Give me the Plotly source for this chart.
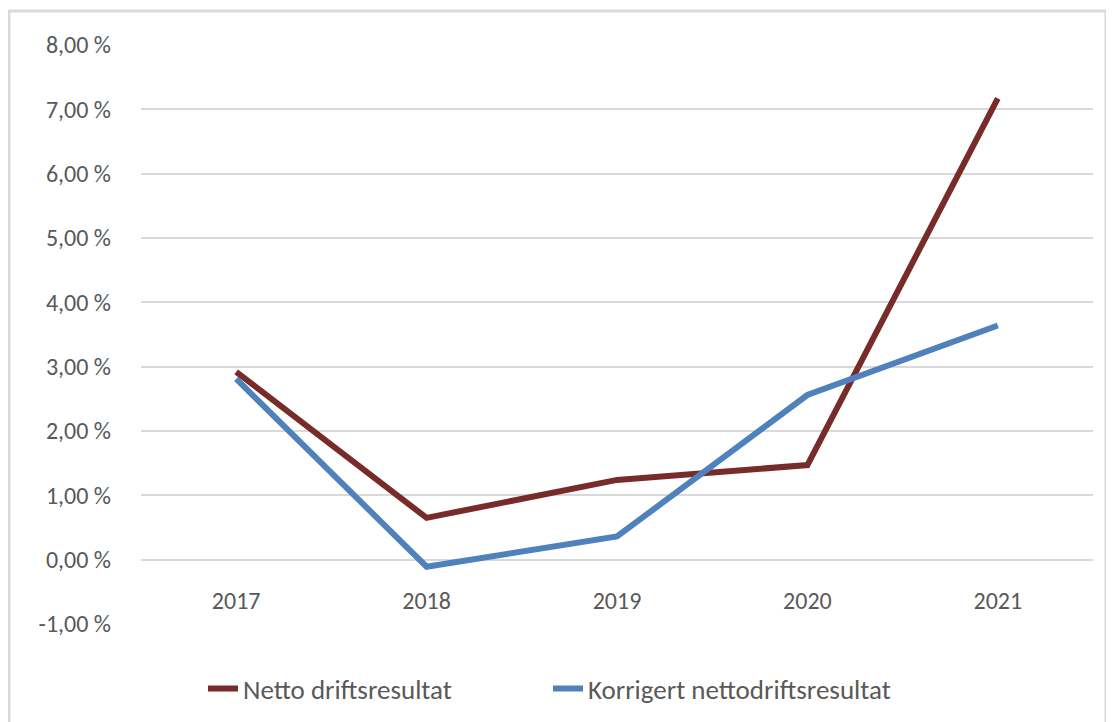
import plotly.graph_objects as go

years = ['2017', '2018', '2019', '2020', '2021']
netto = [2.92, 0.65, 1.24, 1.47, 7.17]
korrigert = [2.81, -0.11, 0.36, 2.56, 3.64]
y_ticks = [-1, 0, 1, 2, 3, 4, 5, 6, 7, 8]
y_ticktext = ['%d,00 %%' % v for v in y_ticks]

FONT = 'Carlito, Calibri, Lato, "Open Sans", sans-serif'
GREY = '#595959'

fig = go.Figure()
fig.add_trace(go.Scatter(
    x=years, y=netto, mode='lines', name='Netto driftsresultat',
    line=dict(color='#772C2A', width=6)))
fig.add_trace(go.Scatter(
    x=years, y=korrigert, mode='lines', name='Korrigert nettodriftsresultat',
    line=dict(color='#4F81BD', width=6)))

ymin, ymax = -1, 8
# page body has an 8px margin, so positions are shifted by that
plot_l, plot_r, plot_t, plot_b = 133, 1085, 37, 616
W, H = 1114, 722

fig.update_layout(
    width=W, height=H,
    margin=dict(l=plot_l, r=W - plot_r, t=plot_t, b=H - plot_b),
    plot_bgcolor='white', paper_bgcolor='white',
    font=dict(family=FONT, color=GREY, size=24),
    showlegend=True,
    legend=dict(orientation='h', x=(195 - plot_l) / (plot_r - plot_l), xanchor='left',
                y=-0.07, yanchor='top', entrywidth=300, entrywidthmode='pixels',
                font=dict(size=27, color=GREY)),
    xaxis=dict(type='category', range=[-0.5, 4.5], showgrid=False, showline=False,
               zeroline=False, anchor='free', position=(0 - ymin) / (ymax - ymin),
               ticks='', tickfont=dict(size=24, color=GREY), ticklabelstandoff=24),
    yaxis=dict(range=[ymin, ymax], tickvals=y_ticks, ticktext=y_ticktext,
               showgrid=True, gridcolor='#D9D9D9', gridwidth=2, zeroline=False,
               showline=False, ticks='', ticklabelstandoff=29,
               tickfont=dict(size=24, color=GREY)),
)

# outer chart border
pw, ph = plot_r - plot_l, plot_b - plot_t
fig.add_shape(type='rect', xref='paper', yref='paper',
              x0=(1 - plot_l) / pw, x1=(1098 - plot_l) / pw,
              y0=(plot_b - 740) / ph, y1=(plot_b - 3) / ph,
              line=dict(color='#D9D9D9', width=3), layer='below')

fig.write_html('out.html')
